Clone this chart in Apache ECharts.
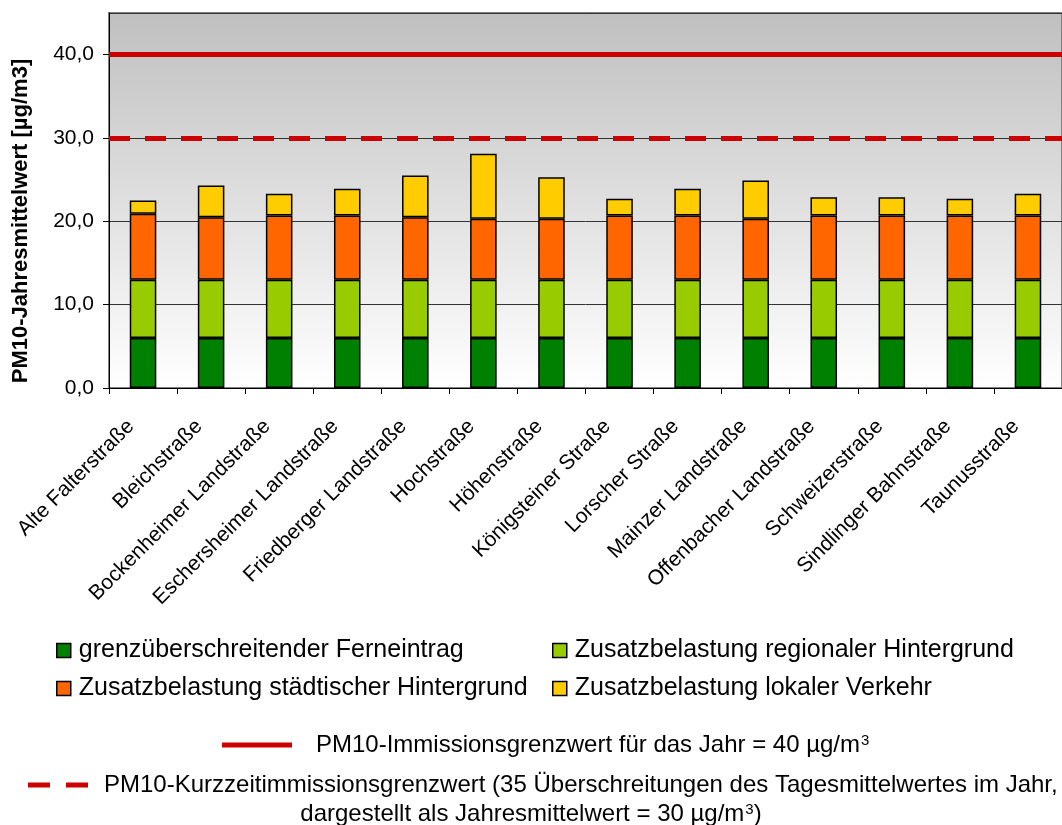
<!DOCTYPE html>
<html>
<head>
<meta charset="utf-8">
<script src="https://cdn.jsdelivr.net/npm/echarts@6/dist/echarts.min.js"></script>
<style>
html,body{margin:0;padding:0;background:#fff;}
#c{width:1062px;height:825px;}
</style>
</head>
<body>
<div id="c"></div>
<script>
const categories = ['Alte Falterstraße','Bleichstraße','Bockenheimer Landstraße','Eschersheimer Landstraße','Friedberger Landstraße','Hochstraße','Höhenstraße','Königsteiner Straße','Lorscher Straße','Mainzer Landstraße','Offenbacher Landstraße','Schweizerstraße','Sindlinger Bahnstraße','Taunusstraße'];
const seriesNames = ['grenzüberschreitender Ferneintrag','Zusatzbelastung regionaler Hintergrund','Zusatzbelastung städtischer Hintergrund','Zusatzbelastung lokaler Verkehr'];
const ferneintrag = [6.0,6.0,6.0,6.0,6.0,6.0,6.0,6.0,6.0,6.0,6.0,6.0,6.0,6.0];
const regional = [7.0,7.0,7.0,7.0,7.0,7.0,7.0,7.0,7.0,7.0,7.0,7.0,7.0,7.0];
const staedtisch = [7.9,7.5,7.7,7.7,7.5,7.3,7.3,7.7,7.7,7.3,7.7,7.7,7.7,7.7];
const verkehr = [1.6,3.8,2.6,3.2,5.0,7.8,5.0,2.0,3.2,4.6,2.2,2.2,2.0,2.6];
const grenzwertJahr = 40;
const grenzwertKurzzeit = 30;
const yMin = 0, yMax = 45, yInterval = 10;

const colors = ['#008000','#99cc00','#ff6600','#ffcc00'];
const values = [ferneintrag, regional, staedtisch, verkehr];
const FONT = '"Liberation Sans", Arial, sans-serif';

const chart = echarts.init(document.getElementById('c'), null, {renderer:'canvas'});

const series = values.map((v,i)=>({
  name: seriesNames[i],
  type: 'bar',
  stack: 'pm',
  data: v,
  barWidth: '39%',
  itemStyle: {color: colors[i], borderColor:'#000', borderWidth:1.5},
  emphasis: {disabled:true}
}));
series[3].markLine = {
  silent: true,
  symbol: 'none',
  label: {show:false},
  data: [
    {yAxis: grenzwertJahr, lineStyle:{color:'#cc0000', width:5, type:'solid'}},
    {yAxis: grenzwertKurzzeit, lineStyle:{color:'#cc0000', width:5, type:[21,15]}}
  ]
};

const legendPos = [[51,633],[547,633],[51,671],[547,671]];
const legends = seriesNames.map((n,i)=>({
  data:[n], left: legendPos[i][0], top: legendPos[i][1],
  icon:'rect', itemWidth:14, itemHeight:14, itemGap:6,
  itemStyle:{borderColor:'#000', borderWidth:1.5},
  textStyle:{fontFamily:FONT, fontSize:25, color:'#000', padding:[0,0,0,3]},
  selectedMode:false
}));

const sup = {fontFamily:FONT, fontSize:15, verticalAlign:'top', color:'#000', padding:[0,0,0,1]};
const txt = {fontFamily:FONT, fontSize:24, color:'#000'};

chart.setOption({
  animation:false,
  textStyle:{fontFamily:FONT},
  grid:{left:109, right:-3, top:13, bottom:437, show:true,
    backgroundColor:{type:'linear', x:0, y:0, x2:0, y2:1, colorStops:[{offset:0,color:'#bfbfbf'},{offset:1,color:'#ffffff'}]},
    borderColor:'#808080', borderWidth:2},
  legend: legends,
  xAxis:{type:'category', data:categories,
    axisLine:{lineStyle:{color:'#000', width:1}},
    axisTick:{show:true, length:6, lineStyle:{color:'#000'}},
    axisLabel:{rotate:45, fontSize:21, color:'#000', margin:23, padding:[0,17,0,0], fontFamily:FONT, interval:0}
  },
  yAxis:{type:'value', min:yMin, max:yMax, interval:yInterval,
    axisLine:{show:true, lineStyle:{color:'#000'}},
    axisTick:{show:true, length:6, lineStyle:{color:'#000'}},
    axisLabel:{fontSize:21, color:'#000', margin:15, fontFamily:FONT, showMaxLabel:false,
      formatter:v=>v.toFixed(1).replace('.',',')},
    splitLine:{show:true, lineStyle:{color:'#333', width:1}}
  },
  series: series,
  graphic:[
    {type:'text', x:21, y:221, rotation:Math.PI/2,
      style:{text:'PM10-Jahresmittelwert [µg/m3]', fontFamily:FONT, fontWeight:'bold', fontSize:22, fill:'#000', align:'center', verticalAlign:'middle'}},
    {type:'line', shape:{x1:222,y1:745,x2:292,y2:745}, style:{stroke:'#cc0000', lineWidth:5}},
    {type:'text', x:316, y:745,
      style:{text:'{t|PM10-Immissionsgrenzwert für das Jahr = 40 µg/m}{s|3}', rich:{t:txt, s:sup}, verticalAlign:'middle', align:'left'}},
    {type:'line', shape:{x1:28,y1:785,x2:88,y2:785}, style:{stroke:'#cc0000', lineWidth:5, lineDash:[22,16]}},
    {type:'text', x:104, y:785,
      style:{text:'{t|PM10-Kurzzeitimmissionsgrenzwert (35 Überschreitungen des Tagesmittelwertes im Jahr,}', rich:{t:txt}, verticalAlign:'middle', align:'left'}},
    {type:'text', x:531, y:814,
      style:{text:'{t|dargestellt als Jahresmittelwert = 30 µg/m}{s|3}{t|)}', rich:{t:txt, s:sup}, verticalAlign:'middle', align:'center'}}
  ]
});
</script>
</body>
</html>
